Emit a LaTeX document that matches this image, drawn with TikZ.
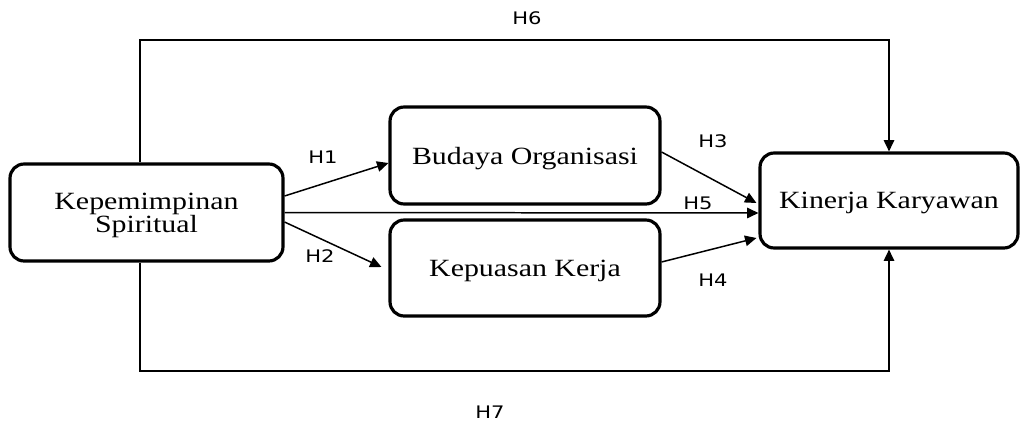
\documentclass[tikz,border=0pt]{standalone}
\usepackage{fontspec}
\setmainfont{Liberation Serif}
\newfontfamily\labfont{DejaVu Sans}
\usetikzlibrary{arrows.meta,calc}
\newcommand{\boxtxt}[1]{\raisebox{-2pt}[\height][\depth]{\scalebox{1}[0.83]{\fontsize{17}{15}\selectfont\begin{tabular}{@{}c@{}}#1\end{tabular}}}}
\newcommand{\labtxt}[1]{\scalebox{1}[0.82]{\labfont\fontsize{12}{14}\selectfont #1}}
\tikzset{
  box/.style={draw, line width=1.8pt, rounded corners=8pt, inner sep=0pt, align=center},
  conn/.style={line width=0.85pt, -{Triangle[length=6.5pt,width=6pt]}},
  lab/.style={inner sep=0pt}
}
\begin{document}
\begin{tikzpicture}[x=0.02cm,y=-0.02cm]
\useasboundingbox (0,0) rectangle (1020,426);
\node[box, minimum width=5.46cm, minimum height=1.94cm] (kep) at (146.5,212.5) {\boxtxt{Kepemimpinan\\Spiritual}};
\node[box, minimum width=5.4cm, minimum height=1.94cm] (bud) at (525,155.5) {\boxtxt{Budaya Organisasi}};
\node[box, minimum width=5.4cm, minimum height=1.92cm] (kpu) at (525,268) {\boxtxt{Kepuasan Kerja}};
\node[box, minimum width=5.16cm, minimum height=1.9cm] (kin) at (889,200.5) {\boxtxt{Kinerja Karyawan}};
\coordinate (top) at (0,40);
\coordinate (bot) at (0,371);
% H1
\draw[conn] (kep.east) ++(0,-16.5) -- ($(bud.west)+(0,7.5)$);
% H2
\draw[conn] (kep.east) ++(0,9.5) -- ($(kpu.west)+(-7,-1)$);
% H5
\draw[conn] (kep.east) -- ($(kin.west)+(0,12.5)$);
% H3
\draw[conn] (bud.east) ++(0,-3.5) -- ($(kin.west)+(-2,2.5)$);
% H4
\draw[conn] (kpu.east) ++(0,-6) -- ($(kin.west)+(-2,37.5)$);
% H6
\draw[conn] (kep.north) ++(-6.5,0) |- (kin.north |- top) -- (kin.north);
% H7
\draw[conn] (kep.south) ++(-6.5,0) |- (kin.south |- bot) -- (kin.south);
\node[lab] (h1) at (323,157) {\labtxt{H1}};
\node[lab] (h2) at (320,256) {\labtxt{H2}};
\node[lab] (h3) at (713,141) {\labtxt{H3}};
\node[lab] (h4) at (713,280) {\labtxt{H4}};
\node[lab] (h5) at (698,203) {\labtxt{H5}};
\node[lab] (h6) at (527,18) {\labtxt{H6}};
\node[lab] (h7) at (490,412) {\labtxt{H7}};
\end{tikzpicture}
\end{document}
